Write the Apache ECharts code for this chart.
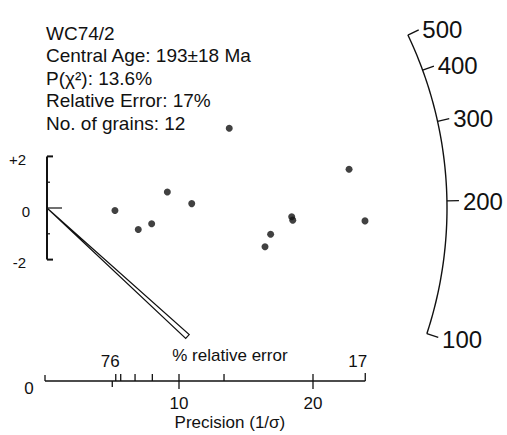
<!DOCTYPE html>
<html><head><meta charset="utf-8">
<script src="https://cdn.jsdelivr.net/npm/echarts@6/dist/echarts.min.js"></script>
<style>html,body{margin:0;padding:0;background:#fff}#c{width:507px;height:435px}</style>
</head><body><div id="c"></div>
<script>
// ---- data ----
const sampleName = 'WC74/2';
const centralAge = 193;
const centralAgeErr = 18;
const pChi2 = 13.6;
const relativeError = 17;
const nGrains = 12;
const precision   = [5.22, 6.96, 7.96, 9.13, 10.95, 16.42, 16.84, 18.41, 18.49, 22.69, 23.88, 13.75];
const standardEst = [-0.10, -0.83, -0.61, 0.62, 0.17, -1.50, -1.02, -0.34, -0.47, 1.50, -0.50, 3.09];
const ageTicks = [100, 200, 300, 400, 500];
const precisionTicks = [10, 20];
const precisionMax = 23.9;
const relErrTicksUp = [5.28, 5.65, 6.72, 8.01, 13.36];
const relErrTicksDown = [5.02];
const relErrMinLabel = '76';
const relErrMaxLabel = '17';
const yScaleTicks = [-2, -1, 0, 1, 2];
const yScaleLabels = ['-2', '0', '+2'];
const errBarEnd = [10.63, -4.98];

// ---- constants of the radial plot ----
const arcRadius = 30;     // in precision units
const zScale = 0.26;      // slope per ln(age/central)
const axisY = -6.705;     // level of precision axis
const FONT = '"Liberation Sans", Arial, sans-serif';
const ink = '#111';

const chart = echarts.init(document.getElementById('c'), null, {renderer: 'svg'});

function renderItem(params, api) {
  const O = api.coord([0, 0]);
  const sx = api.coord([1, 0])[0] - O[0];
  const sy = O[1] - api.coord([0, 1])[1];
  const P = (x, y) => api.coord([x, y]);
  const ch = [];
  const line = (x1, y1, x2, y2, w) => ch.push({type: 'line', shape: {x1, y1, x2, y2}, style: {stroke: ink, lineWidth: w || 1.3}});
  const text = (s, x, y, fs, align, va) => ch.push({type: 'text', style: {text: s, x, y, font: fs + 'px ' + FONT, fill: ink, align: align || 'center', verticalAlign: va || 'middle'}});

  // age arc
  const R = arcRadius * sx;
  const dirFor = t => { const s = zScale * Math.log(t / centralAge); const dx = sx, dy = -s * sy; const n = Math.hypot(dx, dy); return [dx / n, dy / n]; };
  const dA = dirFor(Math.max(...ageTicks)), dB = dirFor(Math.min(...ageTicks));
  const a1 = Math.atan2(dA[1], dA[0]), a2 = Math.atan2(dB[1], dB[0]);
  const pts = [];
  for (let i = 0; i <= 80; i++) { const a = a1 + (a2 - a1) * i / 80; pts.push([O[0] + R * Math.cos(a), O[1] + R * Math.sin(a)]); }
  ch.push({type: 'polyline', shape: {points: pts}, style: {stroke: ink, lineWidth: 1.4, fill: null}});
  ageTicks.forEach(t => {
    const d = dirFor(t);
    line(O[0] + R * d[0], O[1] + R * d[1], O[0] + (R + 12) * d[0], O[1] + (R + 12) * d[1], 1.3);
    text(String(t), O[0] + (R + 16) * d[0], O[1] + (R + 16) * d[1] + 1, 24, 'left', 'middle');
  });

  // standardized estimate scale
  const bx = O[0] + 2;
  line(bx, P(0, 2)[1], bx, P(0, -2)[1], 2);
  yScaleTicks.forEach(v => {
    const y = P(0, v)[1];
    const len = v === 0 ? 15 : (Math.abs(v) === 2 ? 6 : 3);
    line(bx, y, bx + len, y, Math.abs(v) === 2 ? 2 : 1.2);
  });
  yScaleLabels.forEach(s => {
    const v = parseFloat(s);
    text(s, s === '0' ? bx - 17 : bx - 21, P(0, v)[1] + 3, 15, 'right', 'middle');
  });

  // relative error bar (thin wedge)
  const E = P(errBarEnd[0], errBarEnd[1]);
  const S = [bx, O[1]];
  const vx = E[0] - S[0], vy = E[1] - S[1], vn = Math.hypot(vx, vy);
  const px = -vy / vn * 2.6, py = vx / vn * 2.6;
  ch.push({type: 'polygon', shape: {points: [S, [E[0] + px, E[1] + py], [E[0] - px, E[1] - py]]}, style: {fill: '#fff', stroke: ink, lineWidth: 1.2}});

  // precision axis
  const ay = P(0, axisY)[1];
  const x0 = P(0, axisY)[0], xe = P(precisionMax, axisY)[0];
  line(x0, ay, xe, ay, 1.3);
  line(x0, ay, x0, ay - 6, 1.3);
  line(xe, ay, xe, ay - 8, 1.3);
  relErrTicksUp.forEach(v => { const x = P(v, 0)[0]; line(x, ay, x, ay - 7, 1.3); });
  relErrTicksDown.forEach(v => { const x = P(v, 0)[0]; line(x, ay, x, ay + 6, 1.3); });
  precisionTicks.forEach(v => { const x = P(v, 0)[0]; line(x, ay - 7, x, ay + 8, 1.3); text(String(v), x, ay + 23, 17, 'center', 'middle'); });
  text('0', x0 - 16, ay + 8, 17, 'center', 'middle');
  text(relErrMinLabel, P(relErrTicksDown[0], 0)[0] - 2, ay - 19, 17, 'center', 'middle');
  text(relErrMaxLabel, xe + 2, ay - 19, 17, 'right', 'middle');
  text('% relative error', P(13.8, 0)[0], ay - 25, 17, 'center', 'middle');
  text('Precision (1/σ)', P(13.8, 0)[0], ay + 42, 17, 'center', 'middle');

  return {type: 'group', children: ch};
}

const titleLines = [
  sampleName,
  'Central Age: ' + centralAge + '±' + centralAgeErr + ' Ma',
  'P(χ²): ' + pChi2 + '%',
  'Relative Error: ' + relativeError + '%',
  'No. of grains: ' + nGrains
];

chart.setOption({
  animation: false,
  backgroundColor: '#fff',
  grid: {left: 45, top: 1.6, width: 402, height: 412.8},
  xAxis: {type: 'value', min: 0, max: 30, show: false},
  yAxis: {type: 'value', min: -8, max: 8, show: false},
  graphic: titleLines.map((s, i) => ({
    type: 'text', left: 46, top: 24 + i * 22.4,
    style: {text: s, font: '19px ' + FONT, fill: ink}
  })),
  series: [
    {type: 'custom', renderItem, data: [[0, 0]], clip: false, silent: true},
    {type: 'scatter', data: precision.map((p, i) => [p, standardEst[i]]), symbolSize: 7,
     itemStyle: {color: '#111'}, silent: true}
  ]
});
</script></body></html>
